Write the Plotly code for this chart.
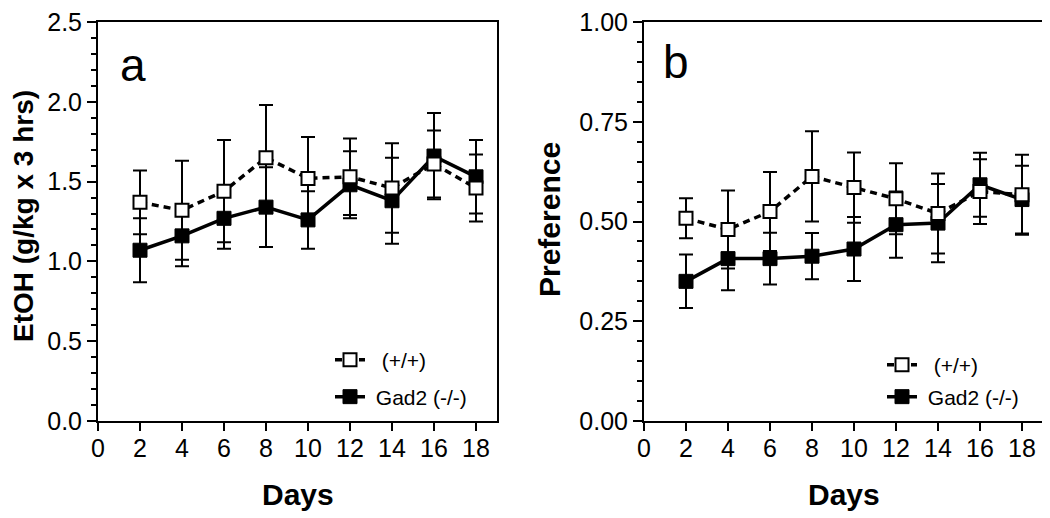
import plotly.graph_objects as go

days = [2, 4, 6, 8, 10, 12, 14, 16, 18]

# Panel a: EtOH intake (g/kg x 3 hrs)
etoh_wt = [1.37, 1.32, 1.44, 1.65, 1.52, 1.53, 1.46, 1.61, 1.46]
etoh_wt_err = [0.20, 0.31, 0.32, 0.33, 0.26, 0.24, 0.28, 0.21, 0.21]
etoh_ko = [1.07, 1.16, 1.27, 1.34, 1.26, 1.48, 1.38, 1.66, 1.53]
etoh_ko_err = [0.20, 0.19, 0.19, 0.25, 0.18, 0.21, 0.27, 0.27, 0.23]

# Panel b: Preference
pref_wt = [0.508, 0.480, 0.525, 0.613, 0.585, 0.557, 0.520, 0.575, 0.567]
pref_wt_err = [0.050, 0.098, 0.099, 0.113, 0.088, 0.089, 0.100, 0.081, 0.100]
pref_ko = [0.350, 0.407, 0.407, 0.413, 0.431, 0.492, 0.496, 0.592, 0.555]
pref_ko_err = [0.067, 0.079, 0.065, 0.058, 0.080, 0.083, 0.098, 0.080, 0.085]

name_wt = "(+/+)"
name_ko = "Gad2 (-/-)"
x_ticks = [0, 2, 4, 6, 8, 10, 12, 14, 16, 18]

FONT = "Liberation Sans, Arial, sans-serif"
OFF = 8  # page body margin
W, H = 1050 - OFF, 518 - OFF
NB = "\u00a0"


def fx(x):
    return (x - OFF) / W


def fy(y):
    return 1 - (y - OFF) / H


def err(vals):
    return dict(type="data", array=vals, visible=True, color="black", thickness=2, width=7)


ko_line = dict(color="black", width=3.5)
ko_marker = dict(symbol="square", size=14, color="black", line=dict(color="black", width=1))
wt_line = dict(color="black", width=3.5, dash="7px,5px")
wt_marker = dict(symbol="square", size=13, color="white", line=dict(color="black", width=2))

fig = go.Figure()

# panel a: filled first, open on top
fig.add_trace(go.Scatter(
    x=days, y=etoh_ko, error_y=err(etoh_ko_err), mode="lines+markers", name=NB + name_ko,
    line=ko_line, marker=ko_marker, xaxis="x", yaxis="y", legend="legend2"))
fig.add_trace(go.Scatter(
    x=days, y=etoh_wt, error_y=err(etoh_wt_err), mode="lines+markers", name=NB * 2 + name_wt,
    line=wt_line, marker=wt_marker, xaxis="x", yaxis="y", legend="legend"))

# panel b
fig.add_trace(go.Scatter(
    x=days, y=pref_ko, error_y=err(pref_ko_err), mode="lines+markers", name=NB + name_ko,
    line=ko_line, marker=ko_marker, xaxis="x2", yaxis="y2", legend="legend4"))
fig.add_trace(go.Scatter(
    x=days, y=pref_wt, error_y=err(pref_wt_err), mode="lines+markers", name=NB * 2 + name_wt,
    line=wt_line, marker=wt_marker, xaxis="x2", yaxis="y2", legend="legend3"))

y_dom = [fy(421), fy(22)]
xa_dom = [fx(98), fx(497)]
xb_dom = [fx(644), fx(1043)]

common_x = dict(range=[0, 19], tickmode="array", tickvals=x_ticks, ticks="outside", ticklen=8,
                tickwidth=2, tickcolor="black", showline=True, linecolor="black", linewidth=2,
                mirror=True, showgrid=False, zeroline=False, automargin=False,
                ticklabelstandoff=-4, ticklabeloverflow="allow",
                tickfont=dict(family=FONT, size=25, color="black"))
common_y = dict(ticks="outside", ticklen=9, tickwidth=2, tickcolor="black", showline=True,
                linecolor="black", linewidth=2, mirror=True, showgrid=False, zeroline=False,
                automargin=False, ticklabeloverflow="allow",
                tickfont=dict(family=FONT, size=25, color="black"))


def leg(xm, ym):
    return dict(x=fx(xm - 20), y=fy(ym), xanchor="left", yanchor="middle",
                bgcolor="rgba(0,0,0,0)", font=dict(family=FONT, size=21, color="black"))


def ann(text, xp, yp, size, angle=0):
    return dict(text=text, x=fx(xp), y=fy(yp), xref="paper", yref="paper", showarrow=False,
                xanchor="center", yanchor="middle", textangle=angle,
                font=dict(family=FONT, size=size, color="black"))


fig.update_layout(
    width=W, height=H,
    margin=dict(l=0, r=0, t=0, b=0),
    plot_bgcolor="white", paper_bgcolor="white",
    font=dict(family=FONT, color="black"),
    xaxis=dict(domain=xa_dom, anchor="y", **common_x),
    yaxis=dict(domain=y_dom, anchor="x", range=[0, 2.5], dtick=0.5, tickformat=".1f",
               minor=dict(ticks="outside", ticklen=5, tickwidth=2, tickcolor="black", dtick=0.1),
               **common_y),
    xaxis2=dict(domain=xb_dom, anchor="y2", **common_x),
    yaxis2=dict(domain=y_dom, anchor="x2", range=[0, 1.0], dtick=0.25, tickformat=".2f",
                minor=dict(ticks="outside", ticklen=5, tickwidth=2, tickcolor="black", dtick=0.05),
                **common_y),
    legend=leg(350, 360),
    legend2=leg(350, 397),
    legend3=leg(902, 365),
    legend4=leg(902, 397),
    annotations=[
        ann("a", 133, 65, 46),
        ann("b", 676, 62, 46),
        ann("<b>Days</b>", 297.5, 494, 30),
        ann("<b>Days</b>", 843.5, 494, 30),
        ann("<b>EtOH (g/kg x 3 hrs)</b>", 23, 216, 28, -90),
        ann("<b>Preference</b>", 549, 220, 30, -90),
    ],
    showlegend=True,
)

fig.write_html("out.html")
